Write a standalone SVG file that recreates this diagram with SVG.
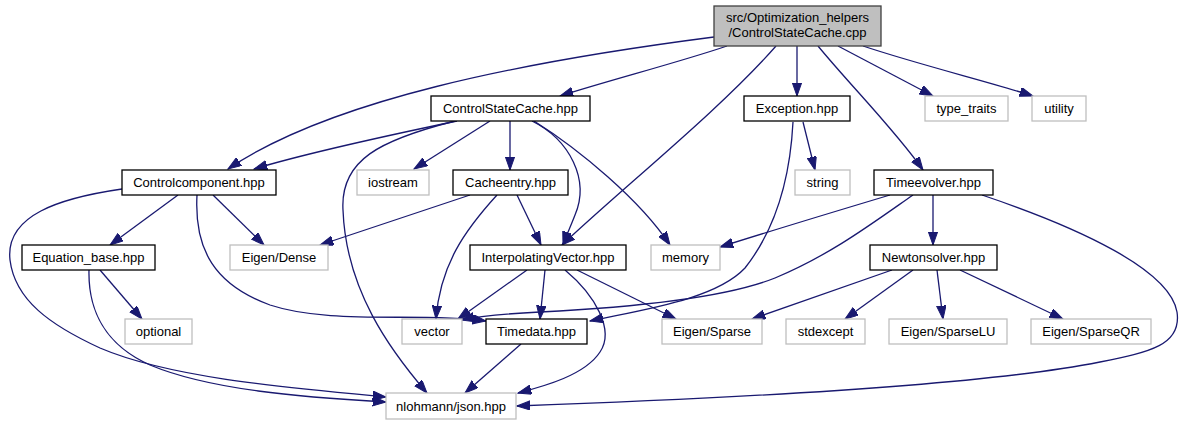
<svg xmlns="http://www.w3.org/2000/svg" width="1183" height="425" viewBox="0 0 1183 425">
<style>
  .n rect { fill: #ffffff; stroke: #000000; stroke-width: 1.3; }
  .s rect { fill: #ffffff; stroke: #bfbfbf; stroke-width: 1.3; }
  .r rect { fill: #bfbfbf; stroke: #404040; stroke-width: 1.3; }
  text { font-family: "Liberation Sans", Arial, Helvetica, sans-serif; font-size: 13px; fill: #000000; text-anchor: middle; }
  #edges path { fill: none; stroke: #191970; stroke-width: 1.3; marker-end: url(#arr); }
</style>
<defs>
  <marker id="arr" markerUnits="userSpaceOnUse" markerWidth="14" markerHeight="10" refX="13.3" refY="4.7" orient="auto" viewBox="0 0 14 10">
    <path d="M0,0 L13.3,4.7 L0,9.4 z" fill="#191970" stroke="#191970" stroke-width="1"/>
  </marker>
</defs>
<rect width="1183" height="425" fill="#ffffff"/>
<g id="edges">
  <path d="M714,37 C520,62 330,100 228,169"/>
  <path d="M727,46 C680,62 610,80 560,96"/>
  <path d="M776,46 C720,110 620,190 562,245"/>
  <path d="M797,46 L797,96"/>
  <path d="M818,46 C850,85 895,130 923,170"/>
  <path d="M838,46 L933,96"/>
  <path d="M863,46 C920,65 990,82 1033,96"/>
  <path d="M457,121 C390,135 310,152 254,169"/>
  <path d="M455,121 C380,140 340,160 343,210 C346,290 390,350 427,393"/>
  <path d="M490,121 L414,169"/>
  <path d="M510,121 L510,170"/>
  <path d="M532,121 C570,140 590,180 575,215 C570,228 566,236 563,245"/>
  <path d="M534,121 C580,150 640,200 670,245"/>
  <path d="M803,122 L815,170"/>
  <path d="M793,122 C790,180 775,230 745,268 C715,300 640,310 590,321"/>
  <path d="M470,195 L320,245"/>
  <path d="M497,195 C465,230 440,265 436,319"/>
  <path d="M517,195 L541,245"/>
  <path d="M178,195 L110,245"/>
  <path d="M213,195 L264,245"/>
  <path d="M197,195 C194,250 215,285 270,305 C330,325 420,312 486,321"/>
  <path d="M122,189 C60,198 5,215 10,260 C15,300 50,325 100,348 C170,378 290,388 386,397"/>
  <path d="M100,270 L142,319"/>
  <path d="M89,270 C88,310 105,345 150,365 C210,390 300,397 386,402"/>
  <path d="M527,270 L458,319"/>
  <path d="M545,270 L540,319"/>
  <path d="M565,270 C595,295 615,330 600,352 C585,375 545,386 518,393"/>
  <path d="M577,270 L676,319"/>
  <path d="M890,195 C840,210 780,228 720,247"/>
  <path d="M913,195 C870,225 830,255 775,278 C720,300 620,308 540,312 C500,314 475,317 461,320"/>
  <path d="M933,195 L933,245"/>
  <path d="M982,195 C1080,228 1170,270 1177,312 C1182,345 1150,352 1100,362 C1000,382 800,396 517,406"/>
  <path d="M892,270 L752,319"/>
  <path d="M913,270 L845,319"/>
  <path d="M937,270 L943,319"/>
  <path d="M960,270 L1063,319"/>
  <path d="M521,344 L465,393"/>
</g>
<g id="root" class="r"><rect x="714" y="6" width="167" height="40"/><text x="797.5" y="22">src/Optimization_helpers</text><text x="797.5" y="37">/ControlStateCache.cpp</text></g>
<g id="ControlStateCache_hpp" class="n"><rect x="431" y="96" width="159" height="25"/><text x="510.5" y="113">ControlStateCache.hpp</text></g>
<g id="Exception_hpp" class="n"><rect x="744" y="96" width="106" height="25"/><text x="797" y="113">Exception.hpp</text></g>
<g id="type_traits" class="s"><rect x="925" y="96" width="83" height="25"/><text x="966.5" y="113">type_traits</text></g>
<g id="utility" class="s"><rect x="1032" y="96" width="54" height="25"/><text x="1059" y="113">utility</text></g>
<g id="Controlcomponent_hpp" class="n"><rect x="122" y="170" width="154" height="25"/><text x="199" y="187">Controlcomponent.hpp</text></g>
<g id="iostream" class="s"><rect x="357" y="170" width="72" height="25"/><text x="393" y="187">iostream</text></g>
<g id="Cacheentry_hpp" class="n"><rect x="453" y="170" width="115" height="25"/><text x="510.5" y="187">Cacheentry.hpp</text></g>
<g id="string" class="s"><rect x="795" y="170" width="55" height="25"/><text x="822.5" y="187">string</text></g>
<g id="Timeevolver_hpp" class="n"><rect x="874" y="170" width="119" height="25"/><text x="933.5" y="187">Timeevolver.hpp</text></g>
<g id="Equation_base_hpp" class="n"><rect x="22" y="245" width="133" height="25"/><text x="88.5" y="262">Equation_base.hpp</text></g>
<g id="Eigen_Dense" class="s"><rect x="230" y="245" width="98" height="25"/><text x="279" y="262">Eigen/Dense</text></g>
<g id="InterpolatingVector_hpp" class="n"><rect x="470" y="245" width="156" height="25"/><text x="548" y="262">InterpolatingVector.hpp</text></g>
<g id="memory" class="s"><rect x="651" y="245" width="69" height="25"/><text x="685.5" y="262">memory</text></g>
<g id="Newtonsolver_hpp" class="n"><rect x="870" y="245" width="127" height="25"/><text x="933.5" y="262">Newtonsolver.hpp</text></g>
<g id="optional" class="s"><rect x="125" y="319" width="67" height="25"/><text x="158.5" y="336">optional</text></g>
<g id="vector" class="s"><rect x="402" y="319" width="60" height="25"/><text x="432" y="336">vector</text></g>
<g id="Timedata_hpp" class="n"><rect x="486" y="319" width="101" height="25"/><text x="536.5" y="336">Timedata.hpp</text></g>
<g id="Eigen_Sparse" class="s"><rect x="662" y="319" width="100" height="25"/><text x="712" y="336">Eigen/Sparse</text></g>
<g id="stdexcept" class="s"><rect x="786" y="319" width="79" height="25"/><text x="825.5" y="336">stdexcept</text></g>
<g id="Eigen_SparseLU" class="s"><rect x="889" y="319" width="118" height="25"/><text x="948" y="336">Eigen/SparseLU</text></g>
<g id="Eigen_SparseQR" class="s"><rect x="1031" y="319" width="120" height="25"/><text x="1091" y="336">Eigen/SparseQR</text></g>
<g id="nlohmann_json_hpp" class="s"><rect x="386" y="393" width="130" height="26"/><text x="451" y="411">nlohmann/json.hpp</text></g>
</svg>
